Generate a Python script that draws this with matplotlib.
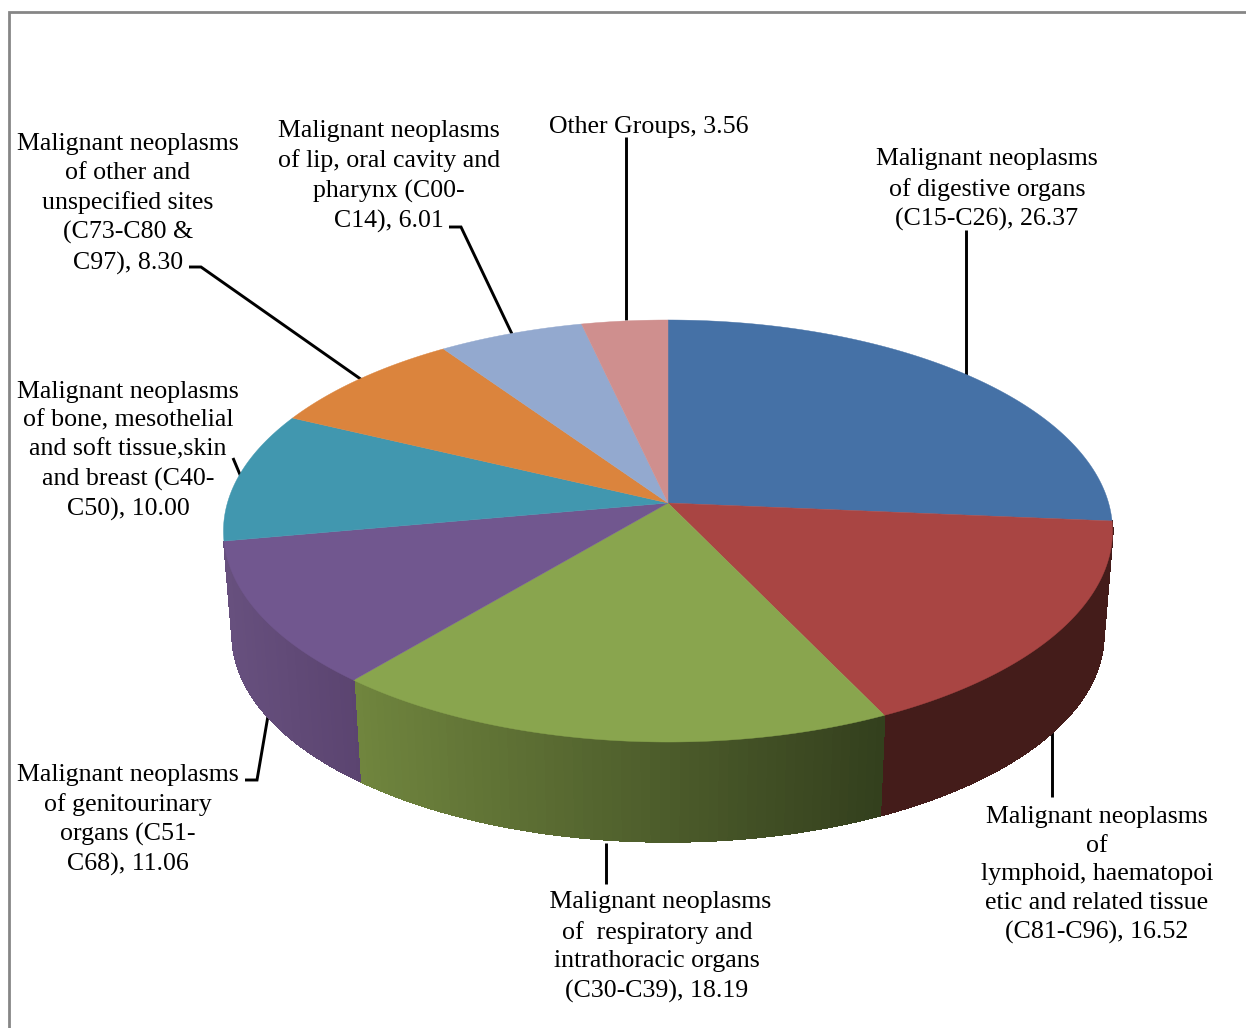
import numpy as np
import matplotlib
matplotlib.use('Agg')
import matplotlib.pyplot as plt

values = [26.37, 16.52, 18.19, 11.06, 10.00, 8.30, 6.01, 3.56]
labels = [
    'Malignant neoplasms\nof digestive organs\n(C15-C26), 26.37',
    'Malignant neoplasms\nof\nlymphoid, haematopoi\netic and related tissue\n(C81-C96), 16.52',
    ' Malignant neoplasms\nof  respiratory and\nintrathoracic organs\n(C30-C39), 18.19',
    'Malignant neoplasms\nof genitourinary\norgans (C51-\nC68), 11.06',
    'Malignant neoplasms\nof bone, mesothelial\nand soft tissue,skin\nand breast (C40-\nC50), 10.00',
    'Malignant neoplasms\nof other and\nunspecified sites\n(C73-C80 &\nC97), 8.30',
    'Malignant neoplasms\nof lip, oral cavity and\npharynx (C00-\nC14), 6.01',
    'Other Groups, 3.56',
]
colors = ['#4571a6', '#a94543', '#89a54e', '#71578f', '#4197af', '#db843d', '#93a9cf', '#cf8f8e']
# side wall shading, left end then right end of the slice
side_colors = {1: ('#441c1a', '#441c1a'), 2: ('#70853e', '#333f1d'), 3: ('#67507e', '#5b4470')}

label_pos = [(987, 189.5), (1097, 875), (657, 947), (128, 820), (128, 451), (128, 204), (389, 176.5), (649, 127)]
leaders = [
    [(966, 230), (966, 375)],
    [(1052, 727), (1052, 797)],
    [(606, 843), (606, 884)],
    [(245, 780), (257, 780), (269, 710)],
    [(233, 458), (241, 477)],
    [(189, 267), (201, 267), (362, 380)],
    [(449, 227), (461, 227), (512, 334)],
    [(626, 137), (626, 320)],
]


def rim(theta):
    # tilted circle seen in perspective, theta clockwise from the top
    d = 1 + 0.1327 * np.cos(theta)
    return 668 + 440.6 * np.sin(theta) / d, 503 - 207.3 * np.cos(theta) / d


def rim_low(theta):
    x, y = rim(theta)
    return 668 + (x - 668) * 0.98, 607.5 + (y - 503) * 0.98


fig = plt.figure(figsize=(12.46, 10.28), dpi=100)
ax = fig.add_axes([0, 0, 1, 1])
ax.set_xlim(0, 1246)
ax.set_ylim(1028, 0)
ax.axis('off')

ax.plot([9, 9, 1246], [1028, 12, 12], color='#868686', lw=2, solid_joinstyle='miter')

edges = np.concatenate([[0], np.cumsum(values)]) / sum(values) * 2 * np.pi

# side walls first, so the top covers them
for i, (c0, c1) in side_colors.items():
    thetas = np.linspace(edges[i], edges[i + 1], 60)
    x0, x1 = rim(thetas[0])[0], rim(thetas[-1])[0]
    left, right = min(x0, x1), max(x0, x1)
    a = np.array(matplotlib.colors.to_rgb(c0))
    b = np.array(matplotlib.colors.to_rgb(c1))
    for t0, t1 in zip(thetas[:-1], thetas[1:]):
        xa, ya = rim(t0)
        xb, yb = rim(t1)
        xc, yc = rim_low(t1)
        xd, yd = rim_low(t0)
        f = ((xa + xb) / 2 - left) / (right - left)
        col = a + (b - a) * f
        ax.fill([xa, xb, xc, xd], [ya, yb, yc, yd], color=col, lw=0.8, zorder=2,
                antialiased=False)

for i in range(len(values)):
    thetas = np.linspace(edges[i], edges[i + 1], 120)
    x, y = rim(thetas)
    ax.fill(np.r_[668, x], np.r_[503, y], color=colors[i], lw=0.3, zorder=3)

for line in leaders:
    ax.plot([p[0] for p in line], [p[1] for p in line], color='black', lw=2.1, zorder=1,
            solid_joinstyle='miter', solid_capstyle='butt')

for text, pos in zip(labels, label_pos):
    ax.text(pos[0], pos[1], text, ha='center', va='center', family='Liberation Serif',
            fontsize=18.6, linespacing=1.40, color='black', zorder=5)

fig.savefig('out.png', dpi=100)
